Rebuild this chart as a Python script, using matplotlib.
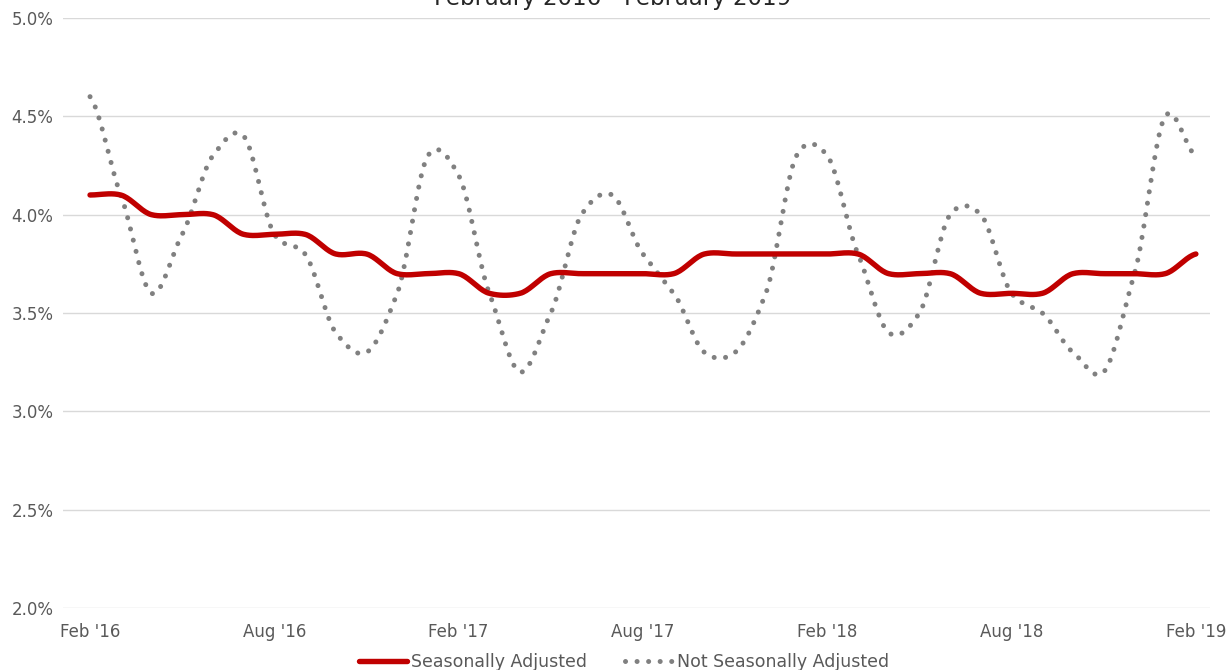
import numpy as np
import matplotlib
matplotlib.use("Agg")
import matplotlib.pyplot as plt

plt.rcParams['font.family'] = ['DejaVu Sans']

# monthly unemployment rate, Feb 2016 .. Feb 2019
seasonally_adjusted = [4.1, 4.1, 4.0, 4.0, 4.0, 3.9, 3.9, 3.9, 3.8, 3.8, 3.7, 3.7,
                       3.7, 3.6, 3.6, 3.7, 3.7, 3.7, 3.7, 3.7, 3.8, 3.8, 3.8, 3.8,
                       3.8, 3.8, 3.7, 3.7, 3.7, 3.6, 3.6, 3.6, 3.7, 3.7, 3.7, 3.7,
                       3.8]
not_seasonally_adjusted = [4.6, 4.1, 3.6, 3.9, 4.3, 4.4, 3.9, 3.8, 3.4, 3.3, 3.6, 4.3,
                           4.2, 3.6, 3.2, 3.5, 4.0, 4.1, 3.8, 3.6, 3.3, 3.3, 3.6, 4.3,
                           4.3, 3.8, 3.4, 3.5, 4.0, 4.0, 3.6, 3.5, 3.3, 3.2, 3.7, 4.5,
                           4.3]
tick_labels = ["Feb '16", "Aug '16", "Feb '17", "Aug '17", "Feb '18", "Aug '18", "Feb '19"]
title = "February 2016 - February 2019"


def smooth(y, steps=20, k=0.4):
    # cardinal spline through the points, like excel's smoothed line
    y = np.asarray(y, float)
    p = np.concatenate([[y[0]], y, [y[-1]]])
    xs, ys = [], []
    t = np.linspace(0, 1, steps, endpoint=False)
    h00 = 2 * t**3 - 3 * t**2 + 1
    h10 = t**3 - 2 * t**2 + t
    h01 = -2 * t**3 + 3 * t**2
    h11 = t**3 - t**2
    for i in range(len(y) - 1):
        p0, p1, p2, p3 = p[i], p[i + 1], p[i + 2], p[i + 3]
        m1 = k * (p2 - p0)
        m2 = k * (p3 - p1)
        xs.append(i + t)
        ys.append(h00 * p1 + h10 * m1 + h01 * p2 + h11 * m2)
    xs.append([len(y) - 1])
    ys.append([y[-1]])
    return np.concatenate(xs), np.concatenate(ys)


fig = plt.figure(figsize=(12.26, 6.70), dpi=100)
ax = fig.add_axes([63 / 1226, 1 - 608 / 670, (1210 - 63) / 1226, (608 - 18) / 670])

x1, y1 = smooth(seasonally_adjusted)
x2, y2 = smooth(not_seasonally_adjusted)
ax.plot(x1, y1, color='#C00000', lw=3.9, solid_capstyle='round', label='Seasonally Adjusted', zorder=3)
ax.plot(x2, y2, color='#808080', lw=3.6, linestyle=(0, (0.01, 2.3)), dash_capstyle='round',
        label='Not Seasonally Adjusted', zorder=2)

ax.set_xlim(-0.88, 36.46)
ax.set_ylim(2.0, 5.0)
ax.set_yticks(np.arange(2.0, 5.01, 0.5))
ax.set_yticklabels(['%.1f%%' % v for v in np.arange(2.0, 5.01, 0.5)])
ax.set_xticks(range(0, 37, 6))
ax.set_xticklabels(tick_labels)
ax.tick_params(length=0, labelsize=12, colors='#595959')
ax.tick_params(axis='x', pad=11)
ax.tick_params(axis='y', pad=7)
ax.grid(axis='y', color='#d9d9d9', lw=1)
ax.set_axisbelow(True)
for s in ax.spines.values():
    s.set_visible(False)

fig.text(0.5, 1 - 5 / 670, title, ha='center', va='baseline', fontsize=16.5, color='#262626')
fig.legend(loc='center', bbox_to_anchor=(624 / 1226, 1 - 662 / 670), ncol=2, frameon=False,
           fontsize=12.5, labelcolor='#595959', handlelength=2.8, handletextpad=0.2, columnspacing=2.2)

fig.savefig('out.png', dpi=100)
